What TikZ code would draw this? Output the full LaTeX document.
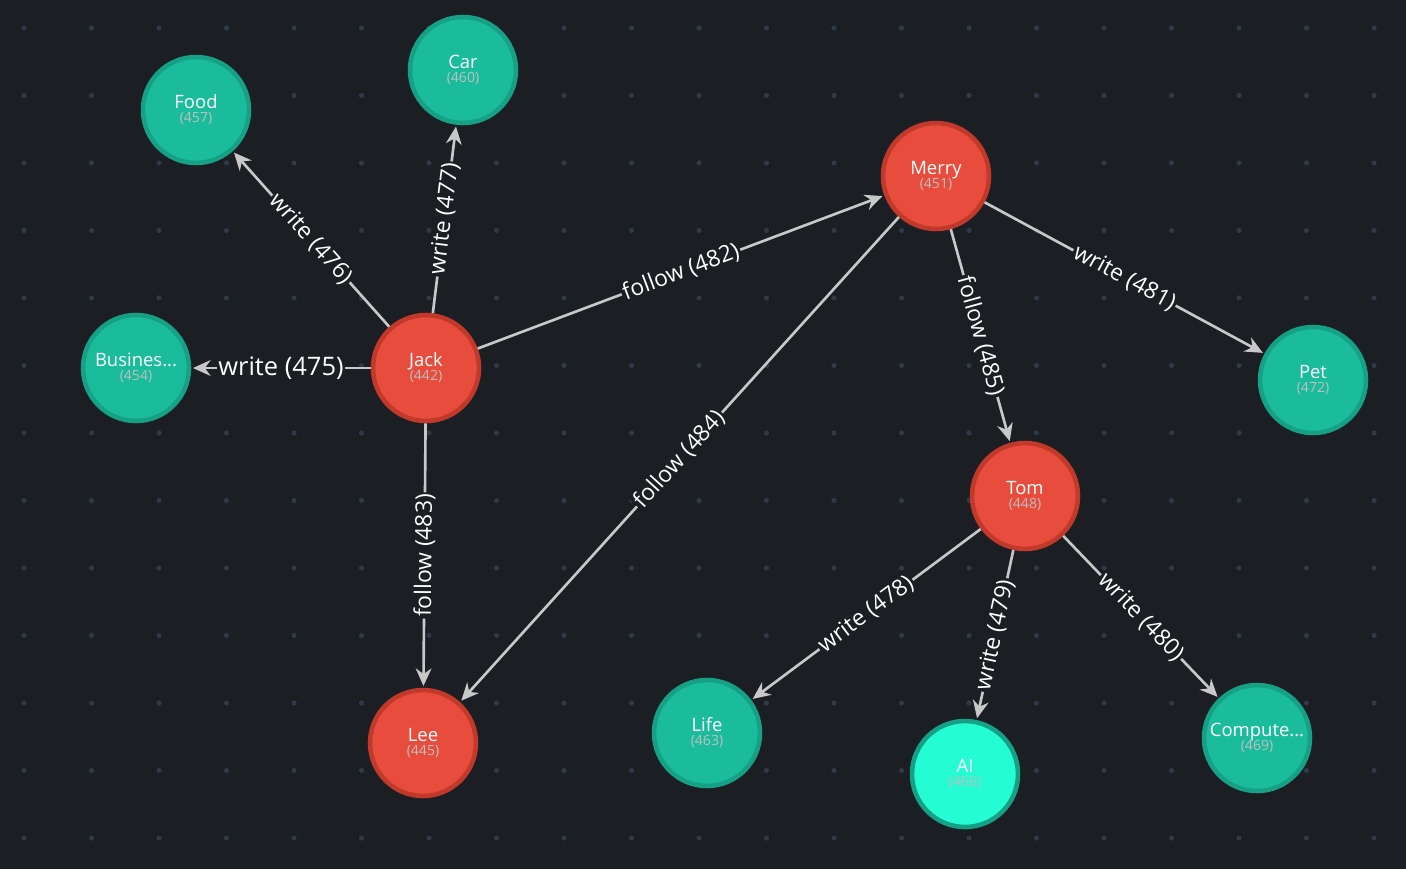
\documentclass[tikz,border=0pt]{standalone}
\usepackage{fontspec}
\setmainfont{Open Sans}
\usetikzlibrary{arrows.meta}
\definecolor{bg}{HTML}{1B1E23}
\definecolor{dotc}{HTML}{2E3A48}
\definecolor{tealf}{HTML}{1ABC9C}
\definecolor{tealb}{HTML}{16A085}
\definecolor{redf}{HTML}{E74C3C}
\definecolor{redb}{HTML}{C0392B}
\definecolor{aif}{HTML}{24FCD3}
\definecolor{edgec}{HTML}{C8C8C8}
\tikzset{
 base/.style={circle,minimum size=2.12cm,line width=2.6pt,align=center,text=white,font=\fontsize{10.5}{11}\selectfont,inner sep=0pt},
 topic/.style={base,fill=tealf,draw=tealb},
 person/.style={base,fill=redf,draw=redb},
 ai/.style={base,fill=aif,draw=tealb},
 edge/.style={draw=edgec,line width=1.5pt,-{Stealth[length=10pt,width=9pt]},shorten >=1pt},
 lab/.style={sloped,fill=bg,text=white,inner sep=1pt,font=\fontsize{13}{14}\selectfont},
}
\newcommand{\nm}[2]{#1\\[-3pt]{\fontsize{8}{9}\selectfont\color{white!75!black}(#2)}}
\begin{document}
\begin{tikzpicture}[x=0.02cm,y=-0.02cm]
\fill[bg] (0,0) rectangle (1406,869);
\useasboundingbox (0,0) rectangle (1406,869);
\foreach \i in {0,...,20}{\foreach \j in {0,...,12}{
 \fill[dotc] ({24+67.5*\i},{28+67.5*\j}) circle (2.6);}}
\node[topic] (food) at (196,110) {\nm{Food}{457}};
\node[topic] (car) at (463,70) {\nm{Car}{460}};
\node[topic] (bus) at (136,368) {\nm{Busines...}{454}};
\node[person] (jack) at (426,368) {\nm{Jack}{442}};
\node[person] (merry) at (936,176) {\nm{Merry}{451}};
\node[topic] (pet) at (1313,380) {\nm{Pet}{472}};
\node[person] (tom) at (1025,496) {\nm{Tom}{448}};
\node[person] (lee) at (423,743) {\nm{Lee}{445}};
\node[topic] (life) at (707,733) {\nm{Life}{463}};
\node[ai] (ai) at (965,774) {\nm{AI}{466}};
\node[topic] (comp) at (1257,738) {\nm{Compute...}{469}};
\draw[edge] (jack) -- node[lab] {write (476)} (food);
\draw[edge] (jack) -- node[lab] {write (477)} (car);
\draw[edge] (jack) -- node[lab,font=\fontsize{14.5}{15}\selectfont] {write (475)} (bus);
\draw[edge] (jack) -- node[lab] {follow (482)} (merry);
\draw[edge] (jack) -- node[lab] {follow (483)} (lee);
\draw[edge] (merry) -- node[lab] {follow (484)} (lee);
\draw[edge] (merry) -- node[lab] {follow (485)} (tom);
\draw[edge] (merry) -- node[lab] {write (481)} (pet);
\draw[edge] (tom) -- node[lab] {write (478)} (life);
\draw[edge] (tom) -- node[lab] {write (479)} (ai);
\draw[edge] (tom) -- node[lab] {write (480)} (comp);
\end{tikzpicture}
\end{document}
